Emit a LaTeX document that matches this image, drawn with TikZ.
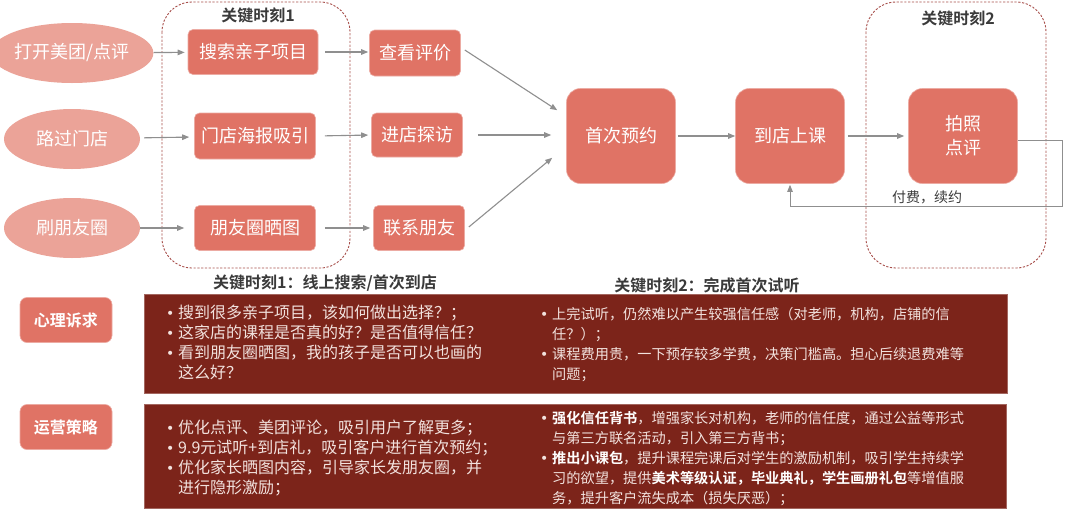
\documentclass[tikz,border=0pt]{standalone}
\usepackage{fontspec}
\setmainfont{Noto Sans CJK SC}[BoldFont={Noto Sans CJK SC Bold}]
\newfontfamily\dejavu{DejaVu Sans}
\usetikzlibrary{shapes.geometric,arrows.meta}
\definecolor{boxred}{HTML}{E07365}
\definecolor{ellpink}{HTML}{EBA398}
\definecolor{panelred}{HTML}{7C241A}
\definecolor{dashc}{HTML}{A8504C}
\definecolor{arrgray}{HTML}{8F8F8F}
\definecolor{headgray}{HTML}{3A3A3A}
\definecolor{paneltext}{HTML}{F2E2DE}
\newcommand{\bul}{\makebox[12pt][l]{{\dejavu\fontsize{14}{14}\selectfont •}}}
\begin{document}
\begin{tikzpicture}[x=1pt,y=-1pt,
  ell/.style={ellipse,fill=ellpink,text=white,minimum width=136pt,minimum height=60pt,inner sep=0pt,font=\fontsize{18}{20}\selectfont},
  rbox/.style={rectangle,rounded corners=5pt,fill=boxred,draw=boxred!60!white,line width=0.6pt,text=white,inner sep=0pt,font=\fontsize{18}{20}\selectfont},
  bigbox/.style={rectangle,rounded corners=14pt,fill=boxred,draw=boxred!60!white,line width=0.6pt,text=white,inner sep=0pt,minimum width=109pt,minimum height=95pt,align=center,font=\fontsize{18}{24}\selectfont},
  arr/.style={draw=arrgray,line width=1.1pt,-{Triangle[length=7pt,width=5.5pt]}},
  dbox/.style={draw=dashc,line width=0.9pt,dash pattern=on 2.2pt off 1.6pt,rounded corners=30pt},
  head/.style={text=headgray,font=\bfseries\fontsize{16}{18}\selectfont,inner sep=0pt},
  btn/.style={rectangle,rounded corners=7pt,fill=boxred,draw=boxred!60!white,line width=0.6pt,text=white,minimum width=92pt,minimum height=45pt,inner sep=0pt,font=\bfseries\fontsize{16}{18}\selectfont},
  panel/.style={rectangle,fill=panelred,draw=panelred!70!white,line width=0.6pt,anchor=north west,inner sep=0pt},
  txtL/.style={anchor=north west,inner sep=0pt,text=paneltext,font=\fontsize{16}{20}\selectfont},
  txtR/.style={anchor=north west,inner sep=0pt,text=paneltext,font=\fontsize{14.2}{20}\selectfont}
]
\useasboundingbox (0,0) rectangle (1080,517);
\fill[white] (0,0) rectangle (1080,517);

% dashed groups
\draw[dbox] (162,2) rectangle (350,268);
\draw[dbox] (866,2) rectangle (1046,268);
\node[head] (h1) at (258,15) {关键时刻1};
\node[head] (h2) at (958,18) {关键时刻2};

% ellipses
\node[ell] (e1) at (72,53) {打开美团/点评};
\node[ell] (e2) at (72,139) {路过门店};
\node[ell] (e3) at (72,228) {刷朋友圈};

% first column boxes
\node[rbox,minimum width=130pt,minimum height=45pt] (s1) at (253,52) {搜索亲子项目};
\node[rbox,minimum width=121pt,minimum height=46pt] (s2) at (255,136) {门店海报吸引};
\node[rbox,minimum width=121pt,minimum height=45pt] (s3) at (255,228) {朋友圈晒图};

% second column boxes
\node[rbox,minimum width=91pt,minimum height=46pt] (c1) at (415,53) {查看评价};
\node[rbox,minimum width=91pt,minimum height=44pt] (c2) at (417,135) {进店探访};
\node[rbox,minimum width=91pt,minimum height=45pt] (c3) at (419,228) {联系朋友};

% big boxes
\node[bigbox] (fy) at (621,136) {首次预约};
\node[bigbox] (dd) at (790,136) {到店上课};
\node[bigbox] (pz) at (963,136) {拍照\\点评};

% arrows
\draw[arr,shorten <=0pt,shorten >=3pt] (e1) -- (s1);
\draw[arr,shorten <=4pt,shorten >=5pt] (e2) -- (s2);
\draw[arr,shorten <=0pt,shorten >=10pt] (e3) -- (s3);
\draw[arr,shorten <=7pt,shorten >=1pt] (s1.east) -- (c1.west |- s1.east);
\draw[arr,shorten <=9pt,shorten >=3pt] (s2.east) -- (c2.west);
\draw[arr,shorten <=9pt,shorten >=3pt] (s3.east) -- (c3.west);
\draw[arr] ([xshift=4pt,yshift=3pt]c1.east) -- ([xshift=-9pt,yshift=-22pt]fy.north west);
\draw[arr] ([xshift=15pt]c2.east) -- ([xshift=-15pt,yshift=1pt]fy.west);
\draw[arr] ([xshift=4pt,yshift=1pt]c3.east) -- ([xshift=-14pt,yshift=26pt]fy.south west);
\draw[arr,shorten <=2pt] (fy.east) -- (dd.west);
\draw[arr,shorten <=3pt,shorten >=4pt] (dd.east) -- (pz.west);
\coordinate (fb) at (1062,206);
\draw[arr,line width=0.9pt] ([yshift=-4pt]pz.east) -| (fb) -| ([yshift=-1pt]dd.south);
\node[text=headgray,inner sep=0pt,font=\fontsize{14}{16}\selectfont] (fbl) at (927,197) {付费，续约};

% section headings
\node[head] (k1) at (325,283) {关键时刻1：线上搜索/首次到店};
\node[head] (k2) at (707,285) {关键时刻2：完成首次试听};

% buttons
\node[btn] (b1) at (66,320) {心理诉求};
\node[btn] (b2) at (66,427) {运营策略};

% panels
\node[panel,minimum width=863pt,minimum height=99pt] (p1) at (144,294) {};
\node[panel,minimum width=862pt,minimum height=104pt] (p2) at (144,404) {};

% panel texts
\node[txtL] (t1) at (166,304) {\begin{tabular}{@{}l@{}l@{}}
\bul & 搜到很多亲子项目，该如何做出选择？；\\
\bul & 这家店的课程是否真的好？是否值得信任？\\
\bul & 看到朋友圈晒图，我的孩子是否可以也画的\\
 & 这么好？
\end{tabular}};
\node[txtR] (t2) at (540,305) {\begin{tabular}{@{}l@{}l@{}}
\bul & 上完试听，仍然难以产生较强信任感（对老师，机构，店铺的信\\
 & 任？）；\\
\bul & 课程费用贵，一下预存较多学费，决策门槛高。担心后续退费难等\\
 & 问题；
\end{tabular}};
\node[txtL] (t3) at (166,419) {\begin{tabular}{@{}l@{}l@{}}
\bul & 优化点评、美团评论，吸引用户了解更多；\\
\bul & 9.9元试听+到店礼，吸引客户进行首次预约；\\
\bul & 优化家长晒图内容，引导家长发朋友圈，并\\
 & 进行隐形激励；
\end{tabular}};
\node[txtR] (t4) at (540,409) {\begin{tabular}{@{}l@{}l@{}}
\bul & {\color{white}\bfseries 强化信任背书}，增强家长对机构，老师的信任度，通过公益等形式\\
 & 与第三方联名活动，引入第三方背书；\\
\bul & {\color{white}\bfseries 推出小课包}，提升课程完课后对学生的激励机制，吸引学生持续学\\
 & 习的欲望，提供{\color{white}\bfseries 美术等级认证，毕业典礼，学生画册礼包}等增值服\\
 & 务，提升客户流失成本（损失厌恶）；
\end{tabular}};
\end{tikzpicture}
\end{document}
